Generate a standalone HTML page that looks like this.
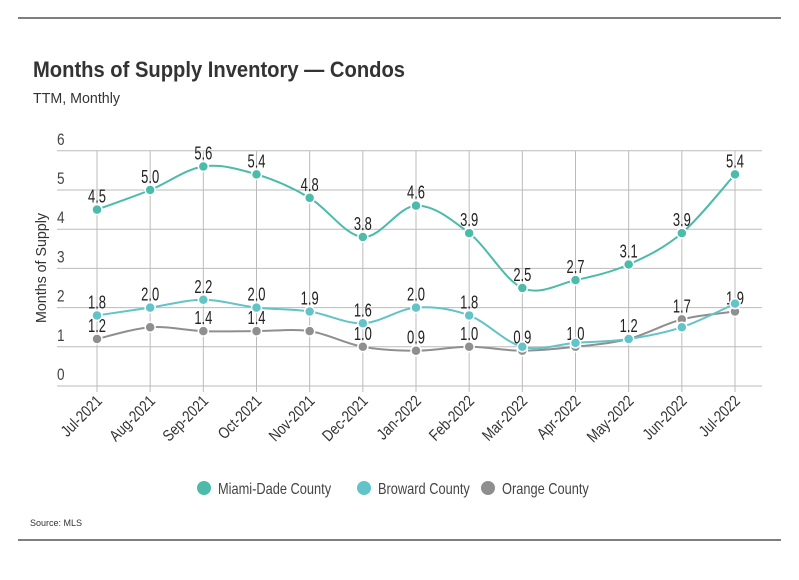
<!DOCTYPE html>
<html><head><meta charset="utf-8"><style>
body{margin:0;background:#fff;width:799px;height:575px;overflow:hidden;font-family:"Liberation Sans",sans-serif}
</style></head><body>
<svg width="799" height="575" id="chart" font-family="Liberation Sans, sans-serif">
<line x1="18" y1="18" x2="781" y2="18" stroke="#333" stroke-width="1.2"/>
<line x1="18" y1="540" x2="781" y2="540" stroke="#333" stroke-width="1.2"/>
<text x="33" y="77" font-size="22" font-weight="bold" fill="#333" textLength="372" lengthAdjust="spacingAndGlyphs">Months of Supply Inventory — Condos</text>
<text x="33" y="103" font-size="15" fill="#333" textLength="87" lengthAdjust="spacingAndGlyphs">TTM, Monthly</text>
<text transform="translate(46,268) rotate(-90)" text-anchor="middle" font-size="15" fill="#333" textLength="110" lengthAdjust="spacingAndGlyphs">Months of Supply</text>
<text x="30" y="526" font-size="9" fill="#333">Source:  MLS</text>
<g id="grid"></g><g id="series"></g><g id="legend"></g>
</svg>
<script>
const categories=["Jul-2021","Aug-2021","Sep-2021","Oct-2021","Nov-2021","Dec-2021","Jan-2022","Feb-2022","Mar-2022","Apr-2022","May-2022","Jun-2022","Jul-2022"];
const miami=[4.5,5.0,5.6,5.4,4.8,3.8,4.6,3.9,2.5,2.7,3.1,3.9,5.4];
const broward=[1.8,2.0,2.2,2.0,1.9,1.6,2.0,1.8,1.0,1.1,1.2,1.5,2.1];
const orange=[1.2,1.5,1.4,1.4,1.4,1.0,0.9,1.0,0.9,1.0,1.2,1.7,1.9];
const browardLabels=[1,1,1,1,1,1,1,1,0,0,0,0,0];
const orangeLabels=[1,0,1,1,0,1,1,1,1,1,1,1,1];
const yTicks=[0,1,2,3,4,5,6];
const NS="http://www.w3.org/2000/svg";
const xS=i=>97+i*(735-97)/12;
const yS=v=>386-v*39.2;
function mk(t,a,p){const e=document.createElementNS(NS,t);for(const k in a)e.setAttribute(k,a[k]);p.appendChild(e);return e;}
function squeeze(t,f){const w=t.getComputedTextLength();t.setAttribute('textLength',w*f);t.setAttribute('lengthAdjust','spacingAndGlyphs');}
const grid=document.getElementById('grid'),ser=document.getElementById('series'),leg=document.getElementById('legend');
yTicks.forEach(v=>{
 const l=mk('line',{x1:57,x2:762,y1:yS(v),y2:yS(v),stroke:'#bbb','stroke-width':1},grid);
 
 
 const t=mk('text',{x:57,y:yS(v)-6,'font-size':17,fill:'#444'},grid);t.textContent=v;
 
 
 squeeze(t,0.8);
});
categories.forEach((c,i)=>{
 const l=mk('line',{x1:xS(i),x2:xS(i),y1:151,y2:392,stroke:'#bbb','stroke-width':1},grid);
 
 
 const t=mk('text',{x:xS(i)+6,y:402,'font-size':16,fill:'#333','text-anchor':'end',transform:`rotate(-45 ${xS(i)+6} 402)`},grid);t.textContent=c;
 
 
 squeeze(t,0.82);
});
function path(vals){let d=`M${xS(0)},${yS(vals[0])}`;const n=vals.length;
 for(let i=0;i<n-1;i++){const p0=i?i-1:i,p3=i+2<n?i+2:i+1;
  const x1=xS(i)+(xS(i+1)-xS(p0))/6,y1=yS(vals[i])+(yS(vals[i+1])-yS(vals[p0]))/6;
  const x2=xS(i+1)-(xS(p3)-xS(i))/6,y2=yS(vals[i+1])-(yS(vals[p3])-yS(vals[i]))/6;
  d+=` C${x1},${y1} ${x2},${y2} ${xS(i+1)},${yS(vals[i+1])}`;}return d;}
function draw(vals,color,name,labels){
 const g=mk('g',{},ser);
 
 
 const p=mk('path',{d:path(vals),fill:'none',stroke:color,'stroke-width':2},g);
 
 
 vals.forEach((v,i)=>{
  const c=mk('circle',{cx:xS(i),cy:yS(v),r:5,fill:color,stroke:'#fff','stroke-width':1.5},g);
  
  
  if(labels[i]){const t=mk('text',{x:xS(i),y:yS(v)-7,'font-size':18,fill:'#222','text-anchor':'middle'},g);t.textContent=v.toFixed(1);
   
   
   squeeze(t,0.72);}
 });
}
draw(orange,'#8f8f8f','orange',orangeLabels);
draw(broward,'#62c3c9','broward',browardLabels);
draw(miami,'#4cbba9','miami',miami.map(()=>1));
[["Miami-Dade County",'#4cbba9',204],["Broward County",'#62c3c9',364],["Orange County",'#8f8f8f',488]].forEach(([n,c,x])=>{
 const g=mk('g',{},leg);
 
 
 mk('circle',{cx:x,cy:488,r:7,fill:c},g);
 const t=mk('text',{x:x+14,y:494,'font-size':16,fill:'#444'},g);t.textContent=n;
 squeeze(t,0.8);
});
</script>
</body></html>
